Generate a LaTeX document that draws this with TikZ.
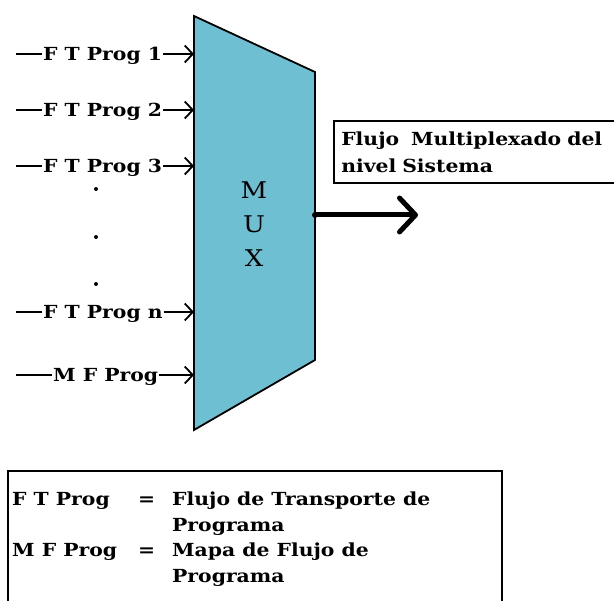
\documentclass[tikz,border=0pt]{standalone}
\usepackage{fontspec}
\setmainfont[FakeStretch=1.13]{DejaVu Serif}
\usetikzlibrary{arrows.meta,positioning}
\definecolor{muxazul}{RGB}{111,191,211}

\begin{document}
\begin{tikzpicture}[x=1pt,y=-1pt,
  lbl/.style={font=\bfseries\fontsize{18}{21}\selectfont, inner sep=1pt, text height=13pt, text depth=0pt},
  leg/.style={font=\bfseries\fontsize{18}{21}\selectfont, inner sep=0pt},
  entrada/.style={-{Straight Barb[length=8pt,width=17pt]}, line width=1.8pt}]
  \useasboundingbox (0,0) rectangle (614,601);
  \clip (0,0) rectangle (614,601);

  % MUX
  \draw[line width=1.8pt, fill=muxazul] (194,16) coordinate (tl) -- (315,72) coordinate (tr)
    -- (315,360) coordinate (br) -- (194,430) coordinate (bl) -- cycle;
  \node[align=center, font=\fontsize{23}{34}\selectfont] (mux) at (254,224) {M\\U\\X};

  % Entradas
  \foreach \y/\x/\txt/\n in {54/42/F T Prog 1/1, 110/42/F T Prog 2/2, 166/42/F T Prog 3/3,
                            312/42/F T Prog n/4, 375/52/M F Prog/5} {
    \coordinate (s\n) at (16,\y);
    \coordinate (m\n) at (194,\y);
    \node[lbl, anchor=west] (e\n) at (\x,\y) {\txt};
    \draw[line width=1.8pt] (s\n) -- (e\n);
    \draw[entrada] (e\n) -- (m\n);
  }

  % Puntos
  \foreach \y in {189,237,284}
    \fill (96,\y) circle (2pt);

  % Salida
  \coordinate (out) at (315,215);
  \coordinate (fin) at (418,215);
  \fill (out) circle (3pt);
  \draw[line width=5pt, -{Straight Barb[length=16pt,width=34pt,round]}] (out) -- (fin);
  \node[draw, line width=1.6pt, anchor=north west, align=left, minimum width=300pt,
    minimum height=62pt, inner xsep=5pt, text width=285pt, font=\bfseries\fontsize{18}{27}\selectfont]
    (sal) at (333,120) {Flujo\ \ Multiplexado del\\nivel Sistema};

  % Leyenda
  \draw[line width=1.6pt] (8,660) -- (8,471) -- (502,471) -- (502,660);
  \node[leg, anchor=base west] (ft) at (12,506) {F T Prog};
  \node[leg, anchor=base west] (eq1) at (138,506) {=};
  \node[leg, anchor=base west] (d1) at (172,506) {Flujo de Transporte de};
  \node[leg, anchor=base west] (d1b) at (172,532) {Programa};
  \node[leg, anchor=base west] (mf) at (12,557) {M F Prog};
  \node[leg, anchor=base west] (eq2) at (138,557) {=};
  \node[leg, anchor=base west] (d2) at (172,557) {Mapa de Flujo de};
  \node[leg, anchor=base west] (d2b) at (172,583) {Programa};
\end{tikzpicture}
\end{document}
